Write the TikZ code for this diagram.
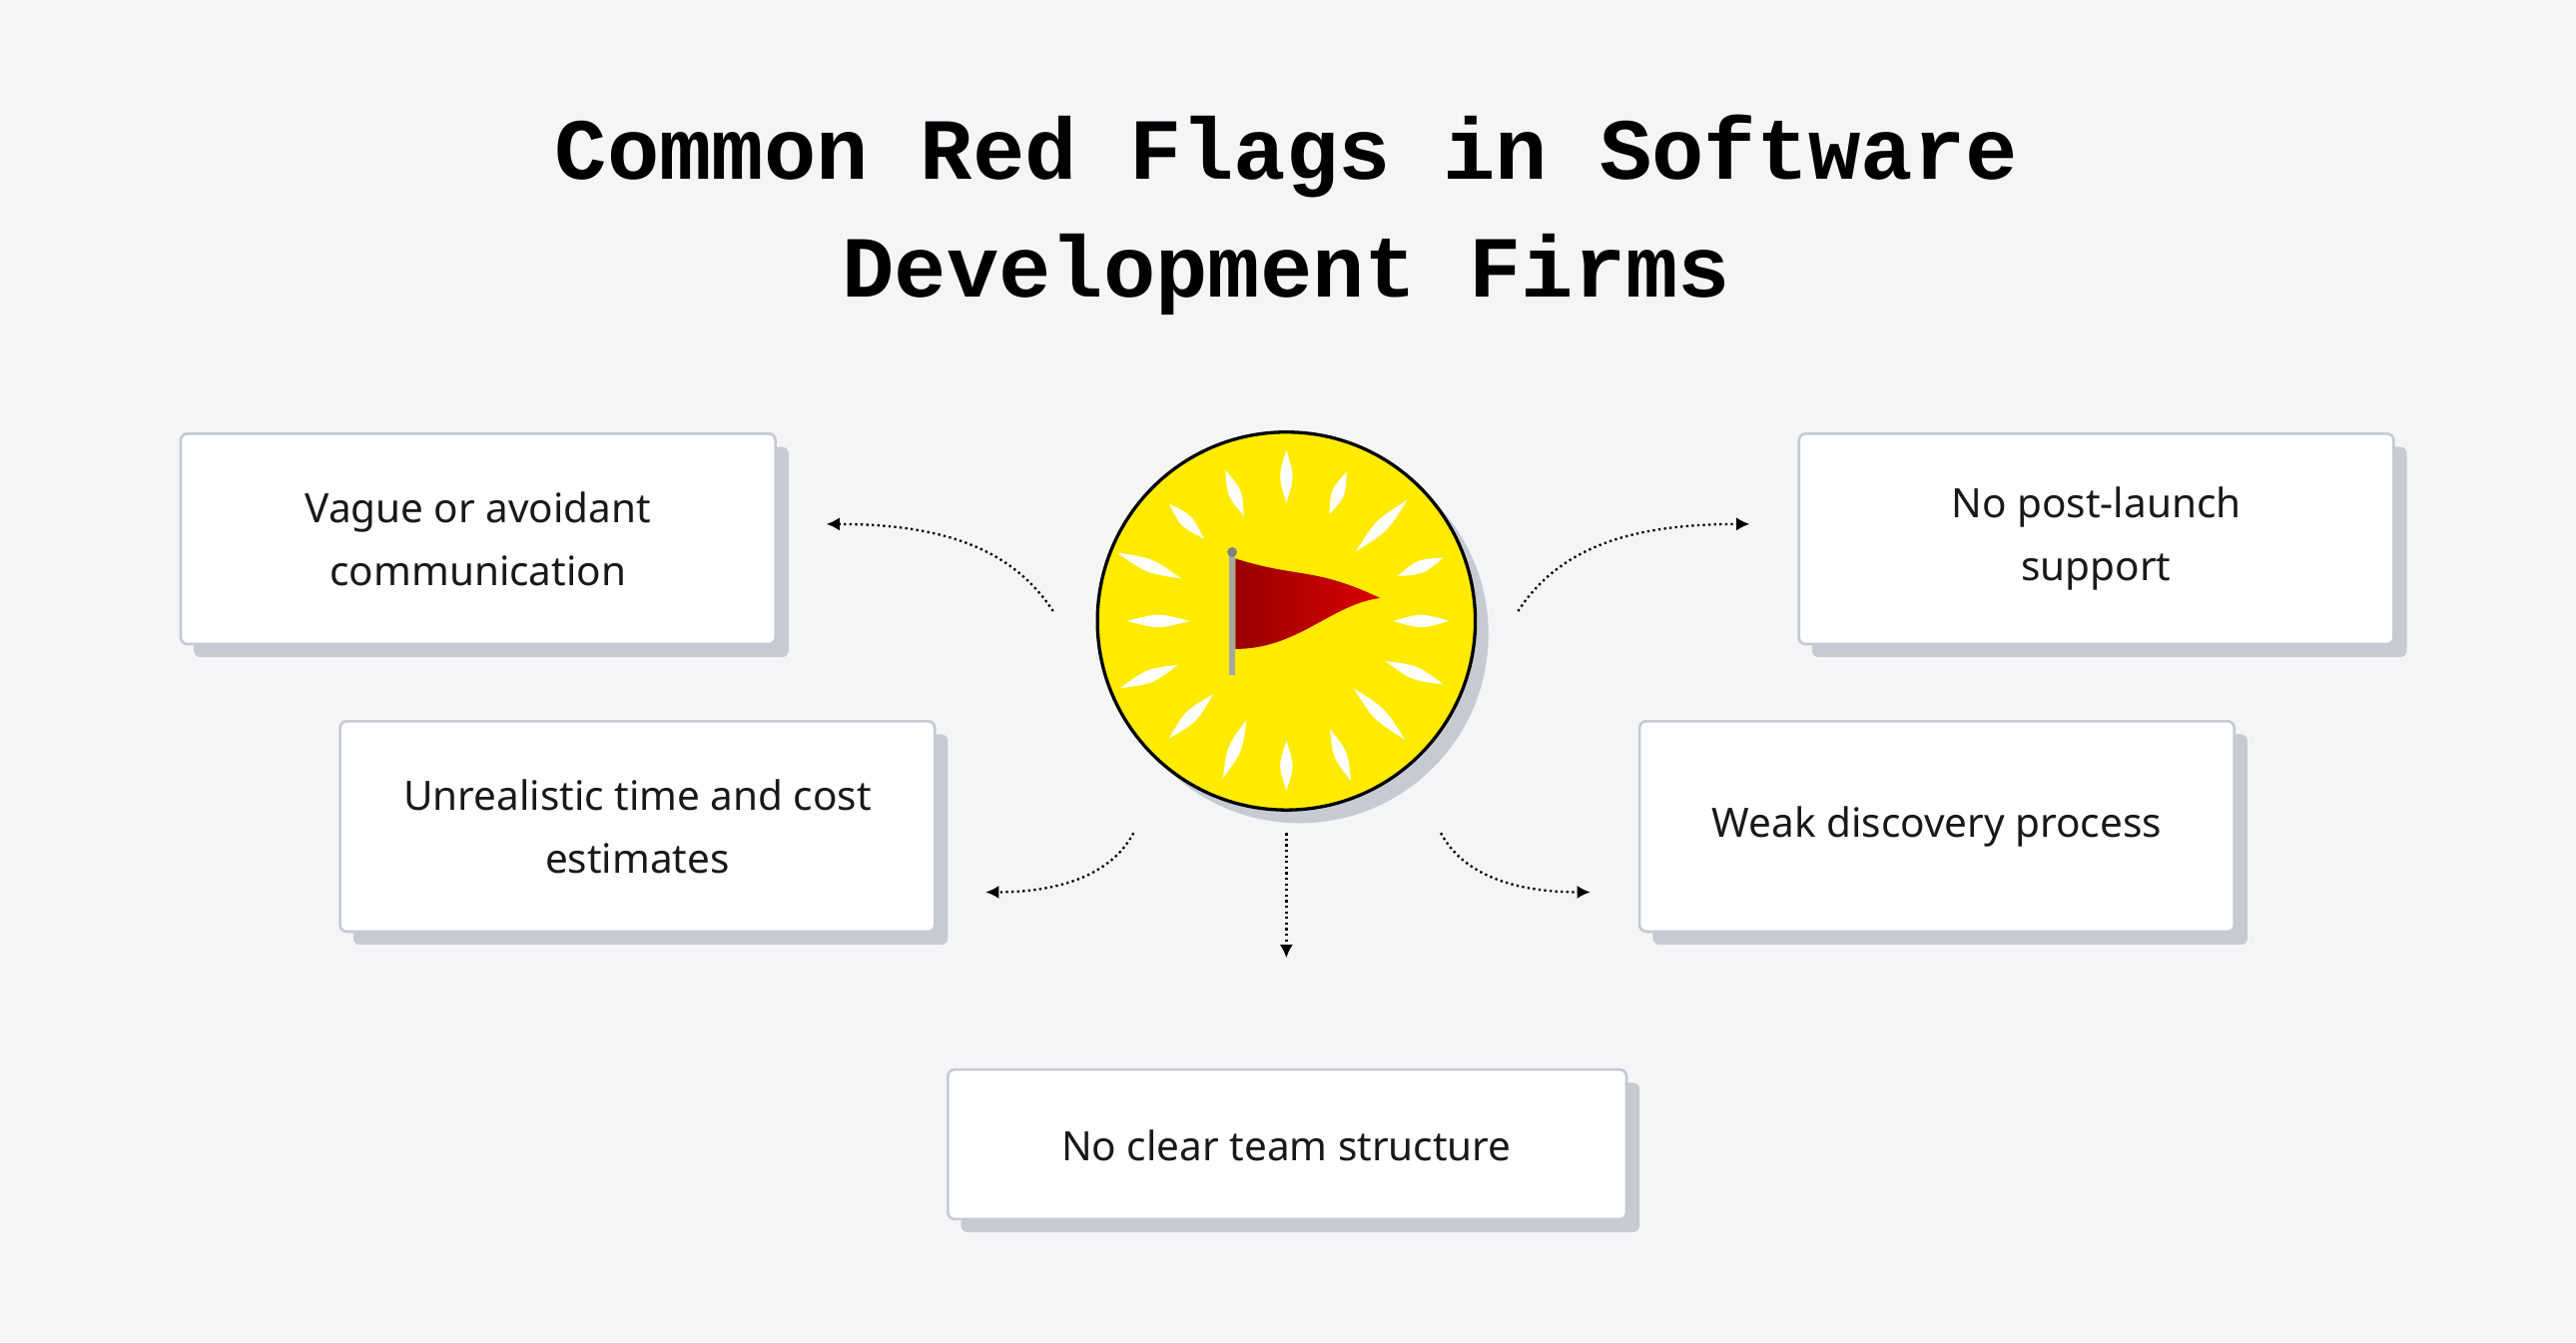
\documentclass[tikz,border=0pt]{standalone}
\usepackage{fontspec}
\setmainfont{Noto Sans}
\newfontfamily\titlefont{Liberation Mono}
\usetikzlibrary{arrows.meta}
\begin{document}
\begin{tikzpicture}[x=0.5pt,y=-0.5pt,
  box/.style={draw=boxline,fill=white,line width=0.8pt,rounded corners=2pt},
  lbl/.style={font=\fontsize{12.3}{19}\selectfont,align=center,text=black!90},
  conn/.style={densely dotted,line width=0.7pt,-{Latex[length=4pt,width=4pt]}}]
\definecolor{bg}{HTML}{F4F5F7}
\definecolor{boxline}{HTML}{C5CAD3}
\definecolor{shadowc}{HTML}{C5CAD3}
\definecolor{sun}{HTML}{FFEB00}
\fill[bg] (0,0) rectangle (1568,817);
\useasboundingbox (0,0) rectangle (1568,817);
\node[font=\titlefont\bfseries\fontsize{26.5}{36}\selectfont] (t1) at (783,95) {Common Red Flags in Software};
\node[font=\titlefont\bfseries\fontsize{26.5}{36}\selectfont] (t2) at (783,167) {Development Firms};
% boxes
\foreach \a/\b/\c/\d in {110/264/472/392,207/439/569/567,1095/264/1457/392,998/439/1360/567,577/651/990/742}{
  \fill[shadowc,rounded corners=2pt] (\a+8,\b+8) rectangle (\c+8,\d+8);
  \draw[box] (\a,\b) rectangle (\c,\d);}
\node[lbl] (b1) at (291,328) {Vague or avoidant\\communication};
\node[lbl] (b2) at (388,503) {Unrealistic time and cost\\estimates};
\node[lbl] (b3) at (1276,328) {No post-launch\\support};
\node[lbl] (b4) at (1179,503) {Weak discovery process};
\node[lbl] (b5) at (783,697) {No clear team structure};
% sun
\fill[shadowc] (791,386) circle[radius=115];
\node[circle,draw=black,line width=1pt,fill=sun,minimum size=115pt,inner sep=0pt] (c) at (783,378) {};
\foreach \ang/\r/\l in {0/82/17,22/84/19,45/80/22,68/88/17,90/88/15,112/84/19,135/82/19,158/90/19,180/78/19,202/90/21,225/86/15,248/84/15,270/88/16,292/84/14,315/82/22,338/88/15}{
  \fill[white,rotate around={-\ang:(783,378)}] (783+\r-\l,378) .. controls (783+\r,378-5) .. (783+\r+\l,378) .. controls (783+\r,378+5) .. (783+\r-\l,378);}
% flag
\draw[gray!70,line width=1.8pt] (750,337) -- (750,411);
\fill[gray] (750,336) circle[radius=3];
\shade[left color=red!60!black,right color=red!85!black] (752,340) .. controls (790,352) and (800,345) .. (840,364) .. controls (810,368) and (790,395) .. (752,395) -- cycle;
% connectors
\coordinate (s1) at (641,372); \coordinate (e1) at (503,319);
\coordinate (s2) at (924,372); \coordinate (e2) at (1065,319);
\coordinate (s3) at (690,507); \coordinate (e3) at (600,543);
\coordinate (s4) at (877,507); \coordinate (e4) at (968,543);
\coordinate (s5) at (783,507); \coordinate (e5) at (783,583);
\draw[conn] (s1) .. controls (615,332) and (570,319) .. (e1);
\draw[conn] (s2) .. controls (950,332) and (995,319) .. (e2);
\draw[conn] (s3) .. controls (675,535) and (640,543) .. (e3);
\draw[conn] (s4) .. controls (892,535) and (927,543) .. (e4);
\draw[conn] (s5) -- (e5);
\end{tikzpicture}
\end{document}
